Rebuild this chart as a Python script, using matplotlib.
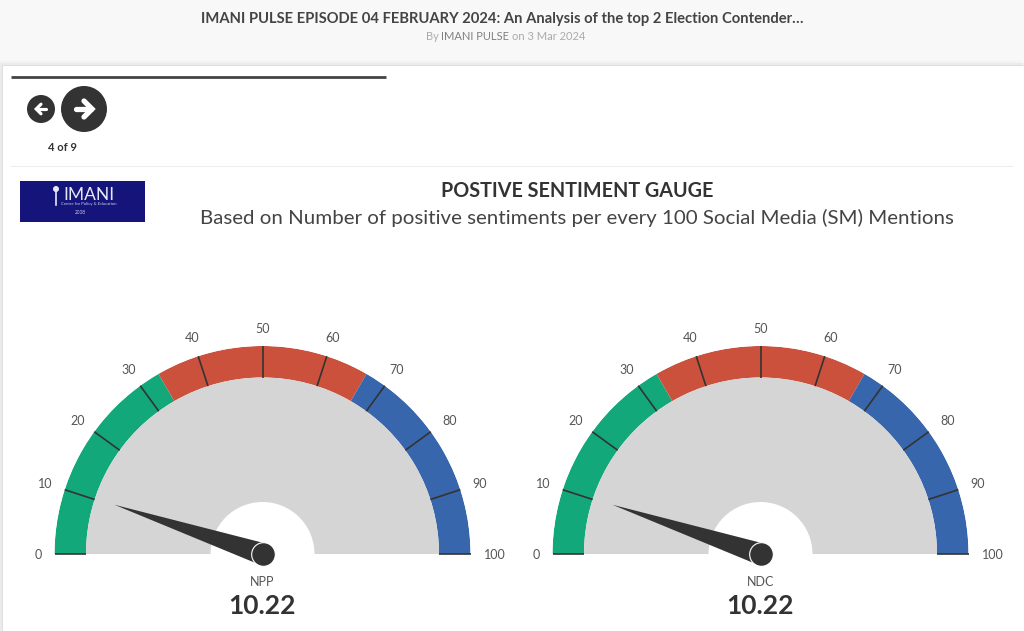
#!/usr/bin/env python3
"""
Positive sentiment gauges (NPP / NDC), page layout in pixels of the screenshot
"""
import numpy as np
import matplotlib
matplotlib.use("Agg")
import matplotlib.pyplot as plt
from matplotlib.patches import Rectangle, Circle

# data
party_names = ["NPP", "NDC"]
party_values = [10.22, 10.22]
band_edges = [0, 33.33, 66.67, 100]
band_colors = ["#12A879", "#CB513D", "#3766AC"]
tick_values = [0, 10, 20, 30, 40, 50, 60, 70, 80, 90, 100]
gauge_min = 0
gauge_max = 100

header_title = "IMANI PULSE EPISODE 04 FEBRUARY 2024: An Analysis of the top 2 Election Contender…"
chart_title = "POSTIVE SENTIMENT GAUGE"
chart_subtitle = "Based on Number of positive sentiments per every 100 Social Media (SM) Mentions"

# layout, px
W, H = 1024, 631
gauge_centers_x = [262.5, 760.5]
gauge_center_y = 554
r_outer = 208
r_inner = 176.5
r_hole = 52
r_needle = 156
r_label = 228
# small label nudges in px (x right, y down)
label_nudge = {0: (4, 1), 20: (0, 1), 40: (0, 1), 50: (0, 3), 60: (0, 1), 80: (3, 1), 100: (4, 1)}

DARK = "#333333"
TEXT = "#555555"

plt.rcParams["font.family"] = ["Lato", "DejaVu Sans"]

fig = plt.figure(figsize=(W / 100, H / 100), dpi=100, facecolor="#F8F8F8")

page = fig.add_axes([0, 0, 1, 1])
page.set_xlim(0, W)
page.set_ylim(H, 0)
page.axis("off")

# card with soft shadow
for i, a in zip([5, 3, 1], [0.02, 0.03, 0.05]):
    page.add_patch(Rectangle((3 - i, 66 - i), W, H, color="black", alpha=a, lw=0))
page.add_patch(Rectangle((3, 66), W, H, color="white", lw=0))

page.text(502, 19, header_title, ha="center", va="center", fontsize=10.65, fontweight="bold", color="#444444")
page.text(426, 36, "By", ha="left", va="center", fontsize=8, color="#AAAAAA")
page.text(441, 36, "IMANI PULSE", ha="left", va="center", fontsize=8, color="#808080")
page.text(512, 36, "on 3 Mar 2024", ha="left", va="center", fontsize=8, color="#AAAAAA")

page.plot([11, 386], [77, 77], color="#444444", lw=2, solid_capstyle="butt")
page.plot([11, 1012], [166, 166], color="#EEEEEE", lw=0.8)

# prev / next buttons
for cx, cy, rad, s in [(41, 109, 14, 0.6), (84, 109, 23, 1.0)]:
    page.add_patch(Circle((cx, cy), rad, color=DARK, lw=0))
    sign = -1 if cx < 50 else 1
    page.plot([cx - sign * 8 * s, cx + sign * 7 * s], [cy, cy], color="white", lw=3.8 * s, solid_capstyle="round")
    page.plot([cx + sign * 0 * s, cx + sign * 8 * s, cx + sign * 0 * s],
              [cy - 8 * s, cy, cy + 8 * s], color="white", lw=3.8 * s,
              solid_capstyle="round", solid_joinstyle="miter")
page.text(62, 147.5, "4 of 9", ha="center", va="center", fontsize=8, fontweight="bold", color=DARK)

# logo
page.add_patch(Rectangle((20, 181), 125, 41, color="#14147A", lw=0))
page.plot([56, 56], [192, 205], color="#E8E8F4", lw=1.2)
page.add_patch(Circle((56, 189), 3, color="#E8E8F4", lw=0))
page.text(89, 194.5, "IMANI", ha="center", va="center", fontsize=12.5, color="#E8E8F4")
page.text(89, 203.5, "Centre for Policy & Education", ha="center", va="center", fontsize=3.1, color="#D0D0E8")
page.text(80, 213, "2008", ha="center", va="center", fontsize=3.4, color="#D0D0E8")

page.text(577, 191, chart_title, ha="center", va="center", fontsize=14.2, fontweight="bold", color="#333333")
page.text(577, 218, chart_subtitle, ha="center", va="center", fontsize=14.75, color="#444444")


def to_theta(v):
    return np.pi * (1 - (v - gauge_min) / (gauge_max - gauge_min))


for cx, name, value in zip(gauge_centers_x, party_names, party_values):
    # full-circle polar axes with r in px, only the upper half gets drawn on
    rect = [(cx - r_outer) / W, 1 - (gauge_center_y + r_outer) / H, 2 * r_outer / W, 2 * r_outer / H]
    ax = fig.add_axes(rect, projection="polar")
    ax.patch.set_alpha(0)
    ax.axis("off")
    ax.set_rlim(0, r_outer)

    for lo, hi, c in zip(band_edges[:-1], band_edges[1:], band_colors):
        ax.bar((to_theta(lo) + to_theta(hi)) / 2, r_outer - r_inner, width=abs(to_theta(hi) - to_theta(lo)),
               bottom=r_inner, color=c, lw=0)
    ax.bar(np.pi / 2, r_inner - r_hole, width=np.pi, bottom=r_hole, color="#D5D5D5", lw=0)

    for t in tick_values:
        th = to_theta(t)
        ax.plot([th, th], [r_inner, r_outer], color=DARK, lw=1.2, solid_capstyle="butt", clip_on=False)
        dx, dy = label_nudge.get(t, (0, 0))
        ax.annotate(str(t), (th, r_label), xytext=(dx * 0.72, -dy * 0.72), textcoords="offset points",
                    ha="center", va="center", fontsize=9, color=TEXT, annotation_clip=False)

    th = to_theta(value)
    ax.fill([th, th + np.pi / 2, th - np.pi / 2], [r_needle, 11, 11], color=DARK, lw=0, clip_on=False, zorder=5)
    ax.scatter([th], [0], s=290, color=DARK, edgecolors="white", linewidths=0.8, clip_on=False, zorder=6)
    ax.set_rlim(0, r_outer)

    page.text(cx, 582, name, ha="center", va="center", fontsize=9, color=TEXT)
    page.text(cx, 606, f"{value:.2f}", ha="center", va="center", fontsize=19, fontweight="bold", color=DARK)

fig.savefig("out.png", dpi=100, facecolor=fig.get_facecolor())
